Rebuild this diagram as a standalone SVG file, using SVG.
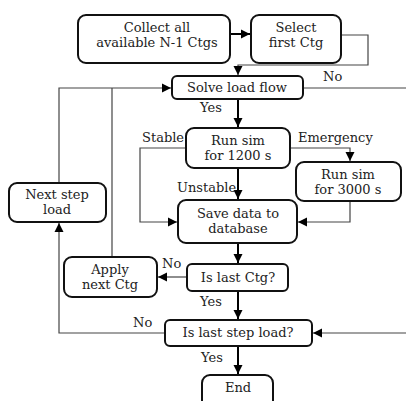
<svg xmlns="http://www.w3.org/2000/svg" width="406" height="401" viewBox="0 0 406 401">
<defs>
<marker id="ah" markerUnits="userSpaceOnUse" markerWidth="10" markerHeight="10" refX="9" refY="5" orient="auto">
<path d="M0,0.5 L9,5 L0,9.5 Z" fill="#000"/>
</marker>
</defs>
<style>
.box{fill:#fff;stroke:#111;stroke-width:2}
.t{font-family:"DejaVu Serif","Liberation Serif",serif;font-size:13px;fill:#222;text-anchor:middle}
.l{font-family:"DejaVu Serif","Liberation Serif",serif;font-size:13px;fill:#222}
.thin{fill:none;stroke:#444;stroke-width:1.2}
.main{fill:none;stroke:#000;stroke-width:2}
</style>
<rect width="406" height="401" fill="#fff"/>
<g id="connectors">
<path class="main" d="M230,34 H250" marker-end="url(#ah)"/>
<path class="thin" d="M341,35 H368 V65 H238 V75" marker-end="url(#ah)"/>
<path class="thin" d="M59,183 V88 H171" marker-end="url(#ah)"/>
<path class="thin" d="M112,257 V88"/>
<path class="thin" d="M303,88 H406"/>
<path class="thin" d="M406,333 H313" marker-end="url(#ah)"/>
<path class="thin" d="M165,333 H59 V223" marker-end="url(#ah)"/>
<path class="main" d="M238,99 V127" marker-end="url(#ah)"/>
<path class="thin" d="M186,148 H140 V222 H177" marker-end="url(#ah)"/>
<path class="thin" d="M290,148 H350 V161" marker-end="url(#ah)"/>
<path class="thin" d="M350,201 V222 H298" marker-end="url(#ah)"/>
<path class="main" d="M238,168 V199" marker-end="url(#ah)"/>
<path class="main" d="M238,243 V263" marker-end="url(#ah)"/>
<path class="thin" d="M187,277 H158" marker-end="url(#ah)"/>
<path class="main" d="M238,291 V319" marker-end="url(#ah)"/>
<path class="main" d="M238,346 V374" marker-end="url(#ah)"/>
<text class="l" x="323" y="81">No</text>
<text class="l" x="200" y="112">Yes</text>
<text class="l" x="142" y="142">Stable</text>
<text class="l" x="298" y="142">Emergency</text>
<text class="l" x="177" y="192">Unstable</text>
<text class="l" x="162" y="268">No</text>
<text class="l" x="200" y="306">Yes</text>
<text class="l" x="133" y="327">No</text>
<text class="l" x="201" y="362">Yes</text>
</g>
<g id="collect">
<rect class="box" x="78" y="15" width="152" height="48" rx="8"/>
<text class="t" x="157" y="32">Collect all</text>
<text class="t" x="157" y="47">available N-1 Ctgs</text>
</g>
<g id="select">
<rect class="box" x="251" y="15" width="90" height="48" rx="8"/>
<text class="t" x="296" y="32">Select</text>
<text class="t" x="296" y="47">first Ctg</text>
</g>
<g id="solve">
<rect class="box" x="172" y="76" width="131" height="23" rx="5"/>
<text class="t" x="237" y="92">Solve load flow</text>
</g>
<g id="runsim1200">
<rect class="box" x="186" y="128" width="104" height="40" rx="8"/>
<text class="t" x="238" y="145">Run sim</text>
<text class="t" x="238" y="160">for 1200 s</text>
</g>
<g id="runsim3000">
<rect class="box" x="296" y="162" width="105" height="39" rx="8"/>
<text class="t" x="348" y="179">Run sim</text>
<text class="t" x="348" y="194">for 3000 s</text>
</g>
<g id="nextstep">
<rect class="box" x="9" y="183" width="97" height="39" rx="8"/>
<text class="t" x="57" y="199">Next step</text>
<text class="t" x="57" y="214">load</text>
</g>
<g id="save">
<rect class="box" x="178" y="200" width="119" height="43" rx="8"/>
<text class="t" x="238" y="218">Save data to</text>
<text class="t" x="238" y="233">database</text>
</g>
<g id="apply">
<rect class="box" x="64" y="257" width="93" height="40" rx="8"/>
<text class="t" x="110" y="274">Apply</text>
<text class="t" x="110" y="289">next Ctg</text>
</g>
<g id="islastctg">
<rect class="box" x="187" y="264" width="101" height="27" rx="5"/>
<text class="t" x="238" y="282">Is last Ctg?</text>
</g>
<g id="islaststep">
<rect class="box" x="165" y="320" width="147" height="26" rx="5"/>
<text class="t" x="238" y="337">Is last step load?</text>
</g>
<g id="end">
<rect class="box" x="202" y="375" width="71" height="40" rx="8"/>
<text class="t" x="238" y="392">End</text>
</g>
</svg>
